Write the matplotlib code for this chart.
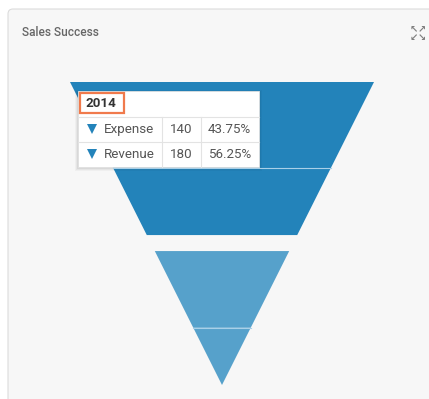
import matplotlib.pyplot as plt
from matplotlib.patches import Polygon, FancyBboxPatch, Rectangle
import numpy as np

plt.rcParams['font.family'] = ['Roboto', 'DejaVu Sans']

# data
years = ['2014', '2015']
categories = ['Revenue', 'Expense']
values = {'2014': [180, 140], '2015': [160, 120]}
tip_year = '2014'
tip_rows = ['Expense', 'Revenue']

colors = {'2014': '#2383ba', '2015': '#56a1cb'}
BG = '#f7f7f7'

fig = plt.figure(figsize=(4.29, 3.99), dpi=100)
ax = fig.add_axes([0, 0, 1, 1])
ax.set_xlim(0, 429)
ax.set_ylim(399, 0)
ax.axis('off')

# card
card = FancyBboxPatch((8, 9), 440, 420, boxstyle='round,pad=0,rounding_size=5',
                      facecolor=BG, edgecolor='#dcdcdc', lw=0.8)
ax.add_patch(card)
ax.text(22, 32, 'Sales Success', fontsize=8.6, color='#666666', va='center', ha='left',
        fontweight='medium')

# expand icon
for (x0, y0, s) in [(413.5, 29.5, '\u2196'), (421.5, 29.5, '\u2197'),
                    (413.5, 38, '\u2199'), (421.5, 38, '\u2198')]:
    ax.text(x0, y0, s, fontsize=7, color='#7f7f7f', ha='center', va='center',
            family='DejaVu Sans', fontweight='bold')

# funnel geometry
top_y, apex_y, cx, top_half = 82, 385, 222, 152
gap = 16
total = sum(sum(values[y]) for y in years)
scale = (apex_y - top_y - gap * (len(years) - 1)) / total

def half(y):
    return top_half * (apex_y - y) / (apex_y - top_y)

y = top_y
for gi, yr in enumerate(years):
    for vi, v in enumerate(values[yr]):
        y2 = y + v * scale
        pts = [(cx - half(y), y), (cx + half(y), y), (cx + half(y2), y2), (cx - half(y2), y2)]
        ax.add_patch(Polygon(pts, closed=True, facecolor=colors[yr], edgecolor='none'))
        if vi > 0:
            ax.plot([cx - half(y), cx + half(y)], [y, y], color='#a9d0e8', lw=0.8)
        y = y2
    y += gap

# tooltip
tx0, tx1, ty0, ty1 = 78, 259, 91, 167
for i, a in enumerate([0.05, 0.04, 0.03]):
    ax.add_patch(Rectangle((tx0 - 1 - i, ty0 - i + 1), tx1 - tx0 + 2 + 2 * i, ty1 - ty0 + 2 * i + 1,
                           facecolor='black', alpha=a, edgecolor='none'))
ax.add_patch(Rectangle((tx0, ty0), tx1 - tx0, ty1 - ty0, facecolor='white', edgecolor='#e0e0e0', lw=0.6))
ax.add_patch(Rectangle((80, 93), 44, 20, facecolor='white', edgecolor='#f07a4c', lw=1.6))
ax.text(86, 103.5, tip_year, fontsize=9.6, fontweight='bold', color='#333333', va='center', ha='left')

row_y = [117, 142, 167]
col_x = [tx0, 162, 201, tx1]
for ry in row_y[:2]:
    ax.plot([tx0, tx1], [ry, ry], color='#e3e3e3', lw=0.8)
for cxl in col_x[1:3]:
    ax.plot([cxl, cxl], [row_y[0], row_y[2]], color='#e3e3e3', lw=0.8)

tot = sum(values[tip_year])
for i, name in enumerate(tip_rows):
    v = values[tip_year][categories.index(name)]
    ym = (row_y[i] + row_y[i + 1]) / 2
    ax.plot(92, ym - 1, marker='v', markersize=7.5, color=colors[tip_year], markeredgewidth=0)
    ax.text(104, ym, name, fontsize=9.6, color='#555555', va='center', ha='left')
    ax.text(181.5, ym, str(v), fontsize=9.6, color='#555555', va='center', ha='center')
    ax.text(229.5, ym, f'{v / tot * 100:.2f}%', fontsize=9.6, color='#555555', va='center', ha='center')

fig.savefig('out.png', dpi=100, facecolor='white')
